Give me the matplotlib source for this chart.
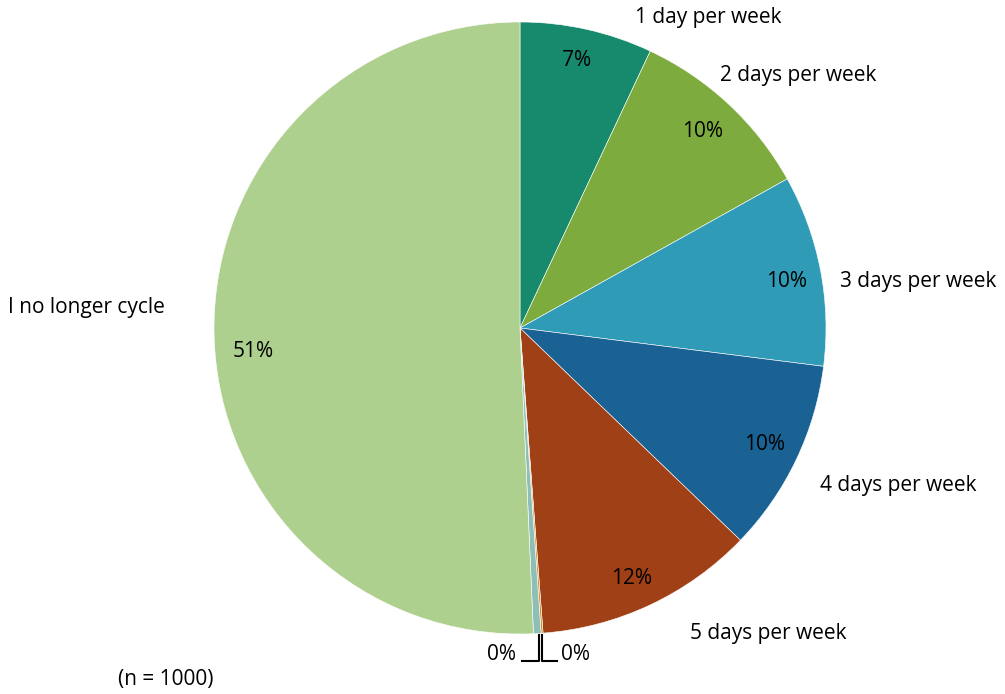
import matplotlib.pyplot as plt

# responses out of n = 1000
labels = ['1 day per week', '2 days per week', '3 days per week', '4 days per week',
          '5 days per week', '6 days per week', '7 days per week', 'I no longer cycle']
counts = [70, 99, 101, 102, 116, 1, 4, 507]
colors = ['#178a6e', '#7eab3e', '#2f9bb7', '#1a6194', '#a04016', '#e08a1e', '#8dbfb8', '#aed08e']
n_total = 1000

W, H = 1005, 694
fig = plt.figure(figsize=(W / 100, H / 100), dpi=100)
ax = fig.add_axes([0, 0, 1, 1])
ax.set_xlim(0, W)
ax.set_ylim(0, H)
ax.axis('off')

cx, cy, R = 520, H - 328, 306
ax.pie(counts, colors=colors, startangle=90, counterclock=False,
       center=(cx, cy), radius=R, wedgeprops=dict(linewidth=0.4, edgecolor='white'))
ax.set_xlim(0, W)
ax.set_ylim(0, H)
ax.set_aspect('equal')

font = dict(family=['Open Sans', 'DejaVu Sans'], fontsize=15, color='black')
pcts = [round(100 * c / n_total) for c in counts]

# percent labels (pixel positions from top-left)
pct_pos = [(577, 60), (703, 131), (787, 281), (765, 444), (632, 579), (501, 655), (575, 655), (253, 351)]
for p, (x, y) in zip(pcts, pct_pos):
    ax.text(x, H - y, f'{p}%', ha='center', va='center', **font)

# category labels
name_pos = [(635, 17), (720, 75), (840, 281), (820, 485), (690, 634), None, None, (8, 307)]
for name, pos in zip(labels, name_pos):
    if pos is None:
        continue
    ax.text(pos[0], H - pos[1], name, ha='left', va='center', **font)

# leader lines for the tiny slices
ax.plot([539, 539, 522], [H - 635, H - 661, H - 661], color='black', lw=1.5)
ax.plot([542, 542, 557], [H - 635, H - 661, H - 661], color='black', lw=1.5)

ax.text(118, H - 680, f'(n = {n_total})', ha='left', va='center', **font)

fig.savefig('out.png', dpi=100)
